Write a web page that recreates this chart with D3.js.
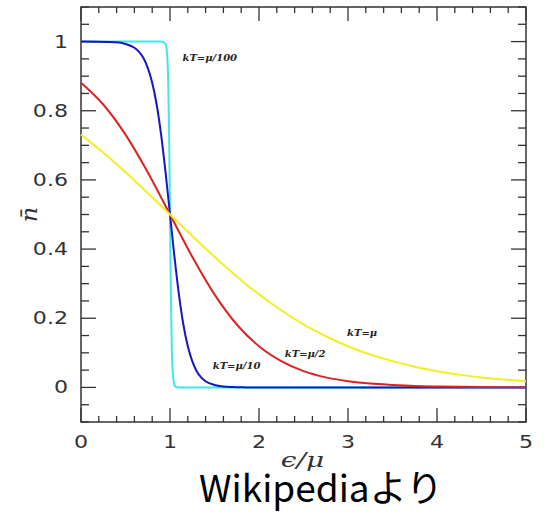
<!DOCTYPE html>
<html lang="ja">
  <head>
    <meta charset="utf-8">
    <title>Fermi-Dirac</title>
    <script src="https://cdn.jsdelivr.net/npm/d3@7"></script>
    <style>
      body { margin: 0; background: #fff; }
      .tick-label { font-family: "DejaVu Sans", sans-serif; font-size: 17px; fill: #333; }
      .curve-label { font-family: "DejaVu Serif", serif; font-style: italic; font-weight: bold; font-size: 10px; fill: #222; }
    </style>
  </head>
  <body>
    <script>
      // x positions + values, one pair per curve
      var xYellow = [0,0.25,0.5,0.75,1,1.25,1.5,1.75,2,2.25,2.5,2.75,3,3.25,3.5,3.75,4,4.25,4.5,4.75,5];
      var nYellow = [0.731,0.679,0.622,0.562,0.5,0.438,0.378,0.321,0.269,0.223,0.182,0.148,0.119,0.095,0.076,0.060,0.047,0.037,0.029,0.023,0.018];

      var xRed = [0,0.25,0.5,0.75,1,1.25,1.5,1.75,2,2.25,2.5,2.75,3,3.25,3.5,3.75,4,4.5,5];
      var nRed = [0.881,0.818,0.731,0.622,0.5,0.378,0.269,0.182,0.119,0.076,0.047,0.029,0.018,0.011,0.007,0.004,0.0025,0.001,0.0003];

      var xBlue = [0,0.3,0.4,0.5,0.6,0.65,0.7,0.75,0.8,0.85,0.9,0.95,1,1.05,1.1,1.15,1.2,1.25,1.3,1.35,1.4,1.5,1.6,1.7,1.8,2,5];
      var nBlue = [1,0.999,0.998,0.993,0.982,0.971,0.953,0.924,0.881,0.818,0.731,0.622,0.5,0.378,0.269,0.182,0.119,0.076,0.047,0.029,0.018,0.007,0.0025,0.001,0.0003,0,0];

      var xCyan = [0,0.9,0.95,0.97,0.98,0.99,0.995,1,1.005,1.01,1.02,1.03,1.05,1.07,1.1,5];
      var nCyan = [1,1,0.993,0.953,0.881,0.731,0.622,0.5,0.378,0.269,0.119,0.047,0.007,0.001,0,0];

      var curveColors = ["#40e6e8", "#1616c4", "#d92424", "#f2ee28"];
      var curveNames = ["kT=μ/100", "kT=μ/10", "kT=μ/2", "kT=μ"];
      var xTicks = [0, 1, 2, 3, 4, 5];
      var yTicks = [0, 0.2, 0.4, 0.6, 0.8, 1];

      var w = 544, h = 513;
      var padL = 81, padR = 526, padT = 7, padB = 422;

      var svg = d3.select("body").append("svg")
        .attr("width", w)
        .attr("height", h);

      var x = d3.scaleLinear().domain([0, 5]).range([padL, padR]);
      var y = d3.scaleLinear().domain([-0.1, 1.1]).range([padB, padT]);

      // frame
      svg.append("rect")
        .attr("x", padL).attr("y", padT)
        .attr("width", padR - padL).attr("height", padB - padT)
        .attr("fill", "none").attr("stroke", "#333").attr("stroke-width", 1.5);

      // inward ticks on all four sides
      var xMinor = d3.range(0, 5.001, 0.2);
      var yMinor = d3.range(-0.1, 1.101, 0.05);
      function isMajor(v, step) { return Math.abs(v / step - Math.round(v / step)) < 1e-6; }

      var tickG = svg.append("g").attr("stroke", "#333").attr("stroke-width", 1.3);
      xMinor.forEach(function(v) {
        var len = isMajor(v, 1) ? 14 : 6;
        tickG.append("line").attr("x1", x(v)).attr("x2", x(v)).attr("y1", padB).attr("y2", padB - len);
        tickG.append("line").attr("x1", x(v)).attr("x2", x(v)).attr("y1", padT).attr("y2", padT + len);
      });
      yMinor.forEach(function(v) {
        var len = isMajor(v, 0.2) ? 15 : 8;
        tickG.append("line").attr("y1", y(v)).attr("y2", y(v)).attr("x1", padL).attr("x2", padL + len);
        tickG.append("line").attr("y1", y(v)).attr("y2", y(v)).attr("x1", padR).attr("x2", padR - len);
      });

      // tick labels (source image is stretched sideways, hence the scale)
      svg.selectAll(".xl").data(xTicks).enter().append("text")
        .attr("class", "tick-label")
        .attr("text-anchor", "middle")
        .attr("transform", function(d) { return "translate(" + x(d) + ",448) scale(1.3,1.05)"; })
        .text(function(d) { return d; });

      svg.selectAll(".yl").data(yTicks).enter().append("text")
        .attr("class", "tick-label")
        .attr("text-anchor", "end")
        .attr("transform", function(d) { return "translate(68," + (y(d) + 6) + ") scale(1.3,1)"; })
        .text(function(d) { return d; });

      // axis titles
      svg.append("text")
        .attr("transform", "translate(" + (x(2.5) - 1) + ",467) scale(1.4,1)")
        .attr("text-anchor", "middle")
        .attr("font-family", "DejaVu Serif, serif")
        .attr("font-style", "italic")
        .attr("font-size", 20)
        .attr("fill", "#333")
        .text("ϵ/μ");

      svg.append("text")
        .attr("transform", "translate(37," + y(0.5) + ") rotate(-90) scale(1.2,1.1)")
        .attr("text-anchor", "middle")
        .attr("font-family", "DejaVu Serif, serif")
        .attr("font-style", "italic")
        .attr("font-size", 20)
        .attr("fill", "#333")
        .text("n\u0304");

      // curves
      var series = [
        { xs: xCyan, ns: nCyan },
        { xs: xBlue, ns: nBlue },
        { xs: xRed, ns: nRed },
        { xs: xYellow, ns: nYellow }
      ];
      var line = d3.line()
        .x(function(d) { return x(d[0]); })
        .y(function(d) { return y(d[1]); })
        .curve(d3.curveMonotoneX);

      series.forEach(function(s, i) {
        svg.append("path")
          .datum(d3.zip(s.xs, s.ns))
          .attr("fill", "none")
          .attr("stroke", curveColors[i])
          .attr("stroke-width", 2)
          .attr("d", line);
      });

      // curve labels
      var labelPos = [[1.14, 0.944], [1.48, 0.053], [2.29, 0.088], [2.99, 0.149]];
      svg.selectAll(".curve-label").data(curveNames).enter().append("text")
        .attr("class", "curve-label")
        .attr("x", function(d, i) { return x(labelPos[i][0]); })
        .attr("y", function(d, i) { return y(labelPos[i][1]); })
        .text(function(d) { return d; });

      svg.append("text")
        .attr("x", 321).attr("y", 502)
        .attr("text-anchor", "middle")
        .attr("font-family", "Noto Sans CJK JP, Noto Sans, sans-serif")
        .attr("font-size", 37)
        .attr("fill", "#000")
        .text("Wikipediaより");
    </script>
  </body>
</html>
